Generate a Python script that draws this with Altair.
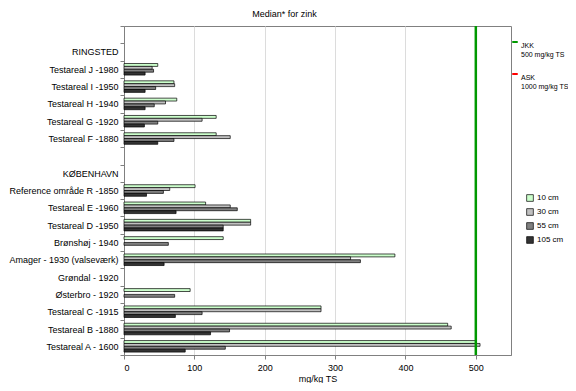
import altair as alt
import pandas as pd

categories = [
    " ", "RINGSTED", "Testareal J -1980", "Testareal I -1950", "Testareal H -1940",
    "Testareal G -1920", "Testareal F -1880", "  ", "KØBENHAVN",
    "Reference område R -1850", "Testareal E -1960", "Testareal D -1950",
    "Brønshøj  - 1940", "Amager - 1930 (valseværk)", "Grøndal  - 1920",
    "Østerbro - 1920", "Testareal C -1915", "Testareal B -1880", "Testareal A - 1600",
]
depths = ["10 cm", "30 cm", "55 cm", "105 cm"]
v10 = [None, None, 48, 71, 75, 131, 131, None, None, 101, 116, 180, 141, 385, None, 94, 280, 460, 500]
v30 = [None, None, 40, 72, 59, 111, 151, None, None, 65, 151, 180, None, 322, None, None, 280, 465, 506]
v55 = [None, None, 42, 45, 43, 48, 71, None, None, 56, 161, 141, 63, 336, None, 72, 111, 150, 144]
v105 = [None, None, 30, 30, 30, 29, 48, None, None, 32, 74, 141, None, 57, None, None, 73, 123, 87]
depth_colors = ["#ccffcc", "#c0c0c0", "#808080", "#333333"]

limit_names = ["JKK", "ASK"]
limit_values = [500, 1000]
limit_colors = ["#009900", "#ff0000"]

rows = []
for d, vals in zip(depths, [v10, v30, v55, v105]):
    for c, v in zip(categories, vals):
        if v is not None:
            rows.append({"cat": c, "depth": d, "value": v})
df = pd.DataFrame(rows)
lim = pd.DataFrame({"name": limit_names, "value": limit_values})

xscale = alt.Scale(domain=[0, 550], nice=False)
xaxis = alt.Axis(
    values=list(range(0, 551, 50)),
    labelExpr="datum.value % 100 === 0 && datum.value <= 500 ? datum.label : ''",
    gridColor={"condition": {"test": "datum.value % 100 === 0 && datum.value > 0 && datum.value < 550",
                             "value": "#dcdcdc"}, "value": "transparent"},
    title="mg/kg TS", titleFontSize=9, titleFontWeight="normal", titlePadding=2,
    labelFontSize=9, labelPadding=4, tickSize=4, tickColor="#808080",
    domainColor="#808080", labelColor="#000000", titleColor="#000000",
)

bars = alt.Chart(df).mark_bar(stroke="#000000", strokeWidth=0.7).encode(
    x=alt.X("value:Q", scale=xscale, axis=xaxis),
    y=alt.Y("cat:N", scale=alt.Scale(domain=categories, paddingInner=0, paddingOuter=0),
            axis=alt.Axis(title=None, tickBand="extent", labelFontSize=9, labelPadding=2,
                          tickSize=4, tickColor="#808080", domainColor="#808080",
                          labelColor="#000000", grid=False)),
    yOffset=alt.YOffset("depth:N", scale=alt.Scale(domain=depths, paddingOuter=1, paddingInner=0)),
    color=alt.Color("depth:N", scale=alt.Scale(domain=depths, range=depth_colors),
                    legend=alt.Legend(title=None, orient="none", legendX=402, legendY=168,
                                      symbolType="square", symbolSize=45,
                                      symbolStrokeColor="#000000", symbolStrokeWidth=0.7,
                                      labelFontSize=8, rowPadding=4, labelOffset=3)),
)

rules = alt.Chart(lim).mark_rule(strokeWidth=2.5, clip=True).encode(
    x=alt.X("value:Q", scale=xscale),
    stroke=alt.Stroke("name:N", scale=alt.Scale(domain=limit_names, range=limit_colors),
                      legend=alt.Legend(title=None, orient="none", legendX=387, legendY=12,
                                        symbolType="stroke", symbolStrokeWidth=2, symbolSize=30,
                                        labelFontSize=7, labelOffset=2, rowPadding=12,
                                        labelBaseline="top",
                                        labelExpr="datum.label === 'JKK' ? ['JKK', '500 mg/kg TS'] : ['ASK', '1000 mg/kg TS']")),
)

chart = alt.layer(bars, rules).properties(
    width=387, height=329,
    title=alt.TitleParams("Median* for zink", fontSize=9, fontWeight="normal", dx=-33, offset=3,
                          frame="group", baseline="top", color="#000000"),
    autosize=alt.AutoSizeParams(type="none"),
    padding={"left": 116, "top": 18, "right": 57, "bottom": 28},
).configure(font="Liberation Sans").configure_view(stroke="#808080", strokeWidth=1)

chart.save("out.html", embed_options={"renderer": "svg", "actions": False})
